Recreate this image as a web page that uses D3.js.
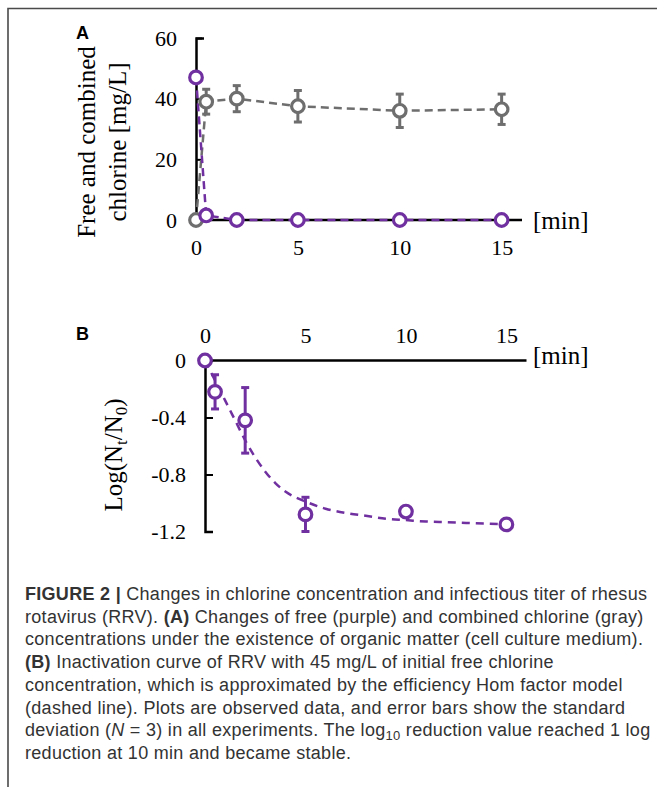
<!DOCTYPE html>
<html>
<head>
<meta charset="utf-8">
<script src="https://cdn.jsdelivr.net/npm/d3@7"></script>
<style>
  html, body { margin: 0; padding: 0; background: #fff; }
  svg { display: block; }
</style>
</head>
<body>
<script>
// Panel A: free and combined chlorine over time (mg/L)
const timeA = [0, 0.5, 2, 5, 10, 15];
const freeChlorine = [47, 1.5, 0, 0, 0, 0];
const freeChlorineSd = [0, 0, 0, 0, 0, 0];
const combinedChlorine = [0, 39, 40, 37.5, 36, 36.5];
const combinedChlorineSd = [0, 4.1, 4.3, 5.2, 5.5, 5];
const yTicksA = [0, 20, 40, 60];
const xTicks = [0, 5, 10, 15];

// Panel B: log reduction of infectious titer
const timeB = [0, 0.5, 2, 5, 10, 15];
const logReduction = [0, -0.22, -0.42, -1.08, -1.06, -1.15];
const logReductionSd = [0, 0.12, 0.23, 0.12, 0.02, 0];
const fitTime = [0, 0.25, 0.5, 1, 1.5, 2, 2.5, 3, 3.5, 4, 4.5, 5, 6, 7, 8, 9, 10, 11, 12, 13, 14, 15];
const fitLog = [0, -0.07, -0.14, -0.28, -0.42, -0.56, -0.68, -0.78, -0.86, -0.92, -0.96, -0.99, -1.04, -1.07, -1.09, -1.11, -1.12, -1.13, -1.135, -1.14, -1.145, -1.15];
const yTicksB = [0, -0.4, -0.8, -1.2];
const yTickLabelsB = ["0", "-0.4", "-0.8", "-1.2"];

const PURPLE = "#7030a0";
const GRAY = "#6e6e6e";
const SERIF = "'Liberation Serif', 'Times New Roman', serif";
const SANS = "'Liberation Sans', Arial, sans-serif";

const W = 657, H = 787;
const svg = d3.select("body").append("svg").attr("width", W).attr("height", H);

// page frame (left and top rules)
svg.append("path")
  .attr("d", `M8,${H}V8.5H${W}`)
  .attr("fill", "none").attr("stroke", "#4a4a4a").attr("stroke-width", 1.6);

// ---------- Panel A ----------
const xA = d3.scaleLinear().domain([0, 16]).range([196, 522]);
const yA = d3.scaleLinear().domain([0, 60]).range([220, 38]);

const gA = svg.append("g");

gA.append("g")
  .attr("transform", `translate(0,${yA(0)})`)
  .call(d3.axisBottom(xA).tickValues(xTicks).tickSize(0).tickPadding(19))
  .call(g => g.select(".domain").attr("stroke-width", 2.5).attr("d", `M${xA(0)},0H${xA(16)}`));

gA.append("g")
  .attr("transform", `translate(${xA(0)},0)`)
  .call(d3.axisLeft(yA).tickValues(yTicksA).tickSizeInner(-6).tickSizeOuter(-8).tickPadding(19))
  .call(g => g.select(".domain").attr("stroke-width", 2.5))
  .call(g => g.selectAll(".tick line").attr("stroke-width", 2));

gA.selectAll(".tick text").attr("font-family", SERIF).attr("font-size", 22).attr("fill", "#000");

// dashed connecting lines
const lineA = d3.line().x(d => xA(d[0])).y(d => yA(d[1]));
gA.append("path")
  .datum(timeA.map((t, i) => [t, combinedChlorine[i]]))
  .attr("d", lineA).attr("fill", "none").attr("stroke", GRAY)
  .attr("stroke-width", 2.5).attr("stroke-dasharray", "8,5");
gA.append("path")
  .datum(timeA.map((t, i) => [t, freeChlorine[i]]))
  .attr("d", lineA).attr("fill", "none").attr("stroke", PURPLE)
  .attr("stroke-width", 2.5).attr("stroke-dasharray", "8,5");

function errorBars(g, xs, ys, sds, xScale, yScale, color) {
  const data = xs.map((t, i) => ({ t, v: ys[i], sd: sds[i] })).filter(d => d.sd > 0);
  const eb = g.append("g").attr("stroke", color).attr("stroke-width", 3).attr("fill", "none");
  eb.selectAll("line.v").data(data).join("line").attr("class", "v")
    .attr("x1", d => xScale(d.t)).attr("x2", d => xScale(d.t))
    .attr("y1", d => yScale(d.v + d.sd)).attr("y2", d => yScale(d.v - d.sd));
  eb.selectAll("line.c1").data(data).join("line").attr("class", "c1")
    .attr("x1", d => xScale(d.t) - 4).attr("x2", d => xScale(d.t) + 4)
    .attr("y1", d => yScale(d.v + d.sd)).attr("y2", d => yScale(d.v + d.sd));
  eb.selectAll("line.c2").data(data).join("line").attr("class", "c2")
    .attr("x1", d => xScale(d.t) - 4).attr("x2", d => xScale(d.t) + 4)
    .attr("y1", d => yScale(d.v - d.sd)).attr("y2", d => yScale(d.v - d.sd));
}

function markers(g, xs, ys, xScale, yScale, color) {
  g.append("g").selectAll("circle").data(xs.map((t, i) => [t, ys[i]])).join("circle")
    .attr("cx", d => xScale(d[0])).attr("cy", d => yScale(d[1])).attr("r", 6.3)
    .attr("fill", "#fff").attr("stroke", color).attr("stroke-width", 3.2);
}

errorBars(gA, timeA, combinedChlorine, combinedChlorineSd, xA, yA, GRAY);
errorBars(gA, timeA, freeChlorine, freeChlorineSd, xA, yA, PURPLE);
markers(gA, timeA, combinedChlorine, xA, yA, GRAY);
markers(gA, timeA, freeChlorine, xA, yA, PURPLE);

gA.append("text").attr("x", 533).attr("y", 229)
  .attr("font-family", SERIF).attr("font-size", 25).text("[min]");

const titleA = gA.append("text")
  .attr("transform", "translate(95,142) rotate(-90)")
  .attr("text-anchor", "middle").attr("font-family", SERIF).attr("font-size", 25);
titleA.append("tspan").attr("x", 0).attr("y", 0).text("Free and combined");
titleA.append("tspan").attr("x", 0).attr("y", 31).text("chlorine [mg/L]");

svg.append("text").attr("x", 76).attr("y", 39)
  .attr("font-family", SANS).attr("font-weight", "bold").attr("font-size", 18).text("A");

// ---------- Panel B ----------
const xB = d3.scaleLinear().domain([0, 16]).range([205, 526.5]);
const yB = d3.scaleLinear().domain([-1.2, 0]).range([531.5, 360.5]);

const gB = svg.append("g");

gB.append("g")
  .attr("transform", `translate(0,${yB(0)})`)
  .call(d3.axisTop(xB).tickValues(xTicks).tickSize(0).tickPadding(18))
  .call(g => g.select(".domain").attr("stroke-width", 2.5).attr("d", `M${xB(0)},0H${xB(16)}`));

gB.append("g")
  .attr("transform", `translate(${xB(0)},0)`)
  .call(d3.axisLeft(yB).tickValues(yTicksB).tickFormat((d, i) => yTickLabelsB[i])
    .tickSizeInner(-8).tickSizeOuter(-8).tickPadding(19))
  .call(g => g.select(".domain").attr("stroke-width", 2.5))
  .call(g => g.selectAll(".tick line").attr("stroke-width", 2));

gB.selectAll(".tick text").attr("font-family", SERIF).attr("font-size", 22).attr("fill", "#000");

const fitLine = d3.line().x(d => xB(d[0])).y(d => yB(d[1])).curve(d3.curveMonotoneX);
gB.append("path")
  .datum(fitTime.map((t, i) => [t, fitLog[i]]))
  .attr("d", fitLine).attr("fill", "none").attr("stroke", PURPLE)
  .attr("stroke-width", 2.5).attr("stroke-dasharray", "8,6");

errorBars(gB, timeB, logReduction, logReductionSd, xB, yB, PURPLE);
markers(gB, timeB, logReduction, xB, yB, PURPLE);

gB.append("text").attr("x", 533).attr("y", 364)
  .attr("font-family", SERIF).attr("font-size", 25).text("[min]");

const titleB = gB.append("text")
  .attr("transform", "translate(122,455) rotate(-90)")
  .attr("text-anchor", "middle").attr("font-family", SERIF).attr("font-size", 25);
titleB.append("tspan").text("Log(N");
titleB.append("tspan").attr("font-size", 17).attr("dy", 5).text("t");
titleB.append("tspan").attr("dy", -5).text("/N");
titleB.append("tspan").attr("font-size", 17).attr("dy", 5).text("0");
titleB.append("tspan").attr("dy", -5).text(")");

svg.append("text").attr("x", 76).attr("y", 340)
  .attr("font-family", SANS).attr("font-weight", "bold").attr("font-size", 18).text("B");

// ---------- Caption ----------
const captionLines = [
  [["b", "FIGURE 2 |"], ["", " Changes in chlorine concentration and infectious titer of rhesus"]],
  [["", "rotavirus (RRV). "], ["b", "(A)"], ["", " Changes of free (purple) and combined chlorine (gray)"]],
  [["", "concentrations under the existence of organic matter (cell culture medium)."]],
  [["b", "(B)"], ["", " Inactivation curve of RRV with 45 mg/L of initial free chlorine"]],
  [["", "concentration, which is approximated by the efficiency Hom factor model"]],
  [["", "(dashed line). Plots are observed data, and error bars show the standard"]],
  [["", "deviation ("], ["i", "N"], ["", " = 3) in all experiments. The log"], ["sub", "10"], ["", " reduction value reached 1 log"]],
  [["", "reduction at 10 min and became stable."]]
];

const cap = svg.append("g").attr("font-family", SANS).attr("font-size", 18).attr("fill", "#333");
const capTexts = captionLines.map((parts, li) => {
  const t = cap.append("text").attr("x", 25).attr("y", 600 + li * 22.7);
  parts.forEach(([style, str], pi) => {
    const s = t.append("tspan").text(str);
    if (style === "b") s.attr("font-weight", "bold");
    if (style === "i") s.attr("font-style", "italic");
    if (style === "sub") s.attr("font-size", 13).attr("dy", 4);
    if (pi > 0 && parts[pi - 1][0] === "sub") s.attr("dy", -4);
  });
  return t;
});

// spread the caption so the first line fills the text block width
const firstLine = capTexts[0].node();
const natural = firstLine.getComputedTextLength();
const nChars = captionLines[0].map(p => p[1]).join("").length;
const spacing = (622 - natural) / (nChars - 1);
cap.attr("letter-spacing", spacing.toFixed(3));
</script>
</body>
</html>
